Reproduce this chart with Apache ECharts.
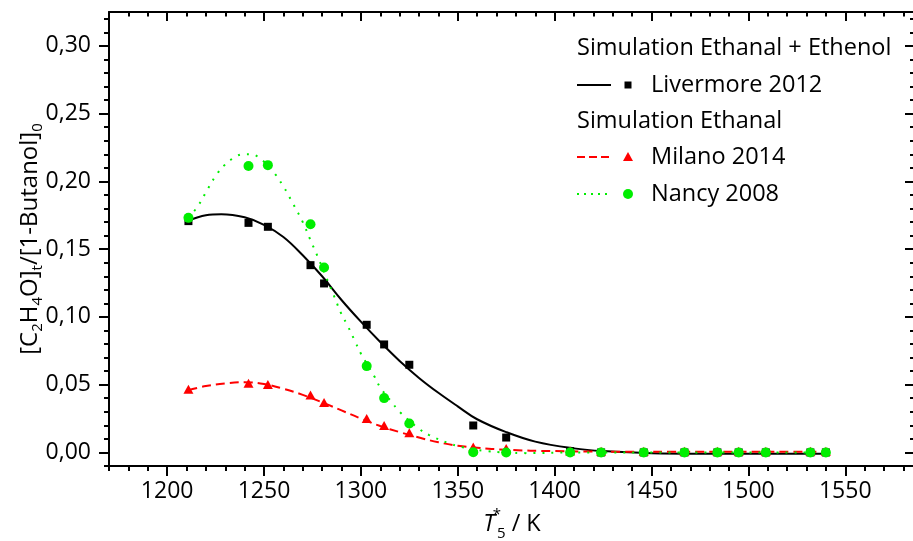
<!DOCTYPE html>
<html>
<head>
<meta charset="utf-8">
<script src="https://cdn.jsdelivr.net/npm/echarts@6/dist/echarts.min.js"></script>
<style>
  html, body { margin: 0; padding: 0; background: #fff; overflow: hidden; }
  #chart { width: 913px; height: 541px; }
</style>
</head>
<body>
<div id="chart"></div>
<script>
// Measured temperatures T5* (K) shared by all three data sets
const tExp = [1211, 1242, 1252, 1274, 1281, 1303, 1312, 1325, 1358, 1375,
              1408, 1424, 1446, 1467, 1484, 1495, 1509, 1532, 1540];

// [C2H4O]t / [1-Butanol]0 markers
const livermorePts = [0.1707, 0.1694, 0.1665, 0.1382, 0.1247, 0.0942, 0.0797, 0.0647, 0.0199, 0.0110,
                      0.0010, 0.0000, 0.0000, 0.0000, 0.0000, 0.0000, 0.0000, 0.0000, 0.0000];
const milanoPts    = [0.0467, 0.0511, 0.0502, 0.0423, 0.0369, 0.0251, 0.0199, 0.0145, 0.0041, 0.0030,
                      0.0010, 0.0008, 0.0008, 0.0008, 0.0008, 0.0008, 0.0008, 0.0008, 0.0008];
const nancyPts     = [0.1731, 0.2113, 0.2120, 0.1684, 0.1365, 0.0637, 0.0401, 0.0214, 0.0002, 0.0000,
                      0.0000, 0.0000, 0.0000, 0.0000, 0.0000, 0.0000, 0.0000, 0.0000, 0.0000];

// Simulation curves (Ethanal + Ethenol for Livermore, Ethanal only for Milano / Nancy)
const livermoreSimT = [1211, 1220, 1228, 1240, 1250, 1260, 1270, 1280, 1290, 1300, 1310, 1320, 1330,
                       1340, 1350, 1360, 1375, 1390, 1410, 1425, 1450, 1500, 1540];
const livermoreSimV = [0.1710, 0.1750, 0.1758, 0.1735, 0.1680, 0.1590, 0.1455, 0.1300, 0.1125, 0.0965,
                       0.0815, 0.0675, 0.0550, 0.0440, 0.0340, 0.0245, 0.0150, 0.0080, 0.0030, 0.0010,
                       -0.0005, -0.0010, -0.0010];

const milanoSimT = [1211, 1220, 1230, 1240, 1250, 1260, 1270, 1280, 1290, 1300, 1310, 1320, 1330,
                    1340, 1350, 1360, 1375, 1400, 1450, 1540];
const milanoSimV = [0.0460, 0.0490, 0.0510, 0.0518, 0.0505, 0.0470, 0.0425, 0.0370, 0.0310, 0.0250,
                    0.0195, 0.0150, 0.0110, 0.0075, 0.0050, 0.0035, 0.0020, 0.0010, 0.0005, 0.0005];

const nancySimT = [1211, 1216, 1221, 1226, 1230, 1234, 1239, 1243, 1247, 1254, 1260, 1265, 1270, 1274,
                   1278, 1282, 1286, 1290, 1293, 1297, 1300, 1307, 1310, 1316, 1320, 1330, 1335, 1345,
                   1352, 1365, 1385, 1410, 1540];
const nancySimV = [0.1730, 0.1820, 0.1945, 0.2060, 0.2125, 0.2170, 0.2200, 0.2201, 0.2180, 0.2085,
                   0.1963, 0.1835, 0.1700, 0.1566, 0.1435, 0.1295, 0.1160, 0.1020, 0.0940, 0.0820,
                   0.0730, 0.0560, 0.0480, 0.0370, 0.0300, 0.0175, 0.0130, 0.0070, 0.0040, 0.0010,
                   -0.0005, 0.0000, 0.0000];

// Axis ticks
const xMajorTicks = [1200, 1250, 1300, 1350, 1400, 1450, 1500, 1550];
const xMinorTicks = [1170, 1180, 1190, 1210, 1220, 1230, 1240, 1260, 1270, 1280, 1290, 1310, 1320, 1330,
                     1340, 1360, 1370, 1380, 1390, 1410, 1420, 1430, 1440, 1460, 1470, 1480, 1490, 1510,
                     1520, 1530, 1540, 1560, 1570, 1580];
const yMajorTicks = [0.00, 0.05, 0.10, 0.15, 0.20, 0.25, 0.30];
const yMinorTicks = [-0.01, 0.01, 0.02, 0.03, 0.04, 0.06, 0.07, 0.08, 0.09, 0.11, 0.12, 0.13, 0.14,
                     0.16, 0.17, 0.18, 0.19, 0.21, 0.22, 0.23, 0.24, 0.26, 0.27, 0.28, 0.29, 0.31, 0.32];

const X_MIN = 1170, X_MAX = 1586;
const Y_MIN = -0.01, Y_MAX = 0.325;

const FONT = '"Open Sans", "Segoe UI", "DejaVu Sans", sans-serif';
const GREEN = '#00ee00';
const RED = '#ff0000';
const BLACK = '#000000';
const TICK_FS = 23;
const TEXT_FS = 23.5;

const zip = (xs, ys) => xs.map((x, i) => [x, ys[i]]);

function makeAxis(dim, position, ticks, opts) {
  const a = {
    type: 'value',
    position: position,
    min: dim === 'x' ? X_MIN : Y_MIN,
    max: dim === 'x' ? X_MAX : Y_MAX,
    splitLine: { show: false },
    axisLine: { show: opts.line, onZero: false, lineStyle: { color: BLACK, width: 2 } },
    axisTick: {
      show: true, inside: opts.inside, length: opts.len, customValues: ticks,
      lineStyle: { color: BLACK, width: 2 }
    },
    axisLabel: { show: false },
    z: 5
  };
  if (opts.labels) {
    a.axisLabel = {
      show: true, customValues: ticks, color: BLACK, fontFamily: FONT, fontSize: TICK_FS,
      margin: opts.margin,
      formatter: v => dim === 'x' ? String(v) : v.toFixed(2).replace('.', ',')
    };
  }
  return a;
}

const xAxes = [
  makeAxis('x', 'bottom', xMajorTicks, { line: true, inside: false, len: 10, labels: true, margin: 14 }),
  makeAxis('x', 'bottom', xMinorTicks, { line: false, inside: false, len: 5 }),
  makeAxis('x', 'top', xMajorTicks, { line: true, inside: true, len: 9 }),
  makeAxis('x', 'top', xMinorTicks, { line: false, inside: true, len: 4.5 })
];
xAxes[0].name = '{i|T}{sup|*}{sub|5}{n| / K}';
xAxes[0].nameLocation = 'middle';
xAxes[0].nameGap = 41;
xAxes[0].nameMoveOverlap = false;
xAxes[0].nameTextStyle = {
  color: BLACK, fontFamily: FONT, fontSize: TEXT_FS,
  rich: {
    i: { fontFamily: FONT, fontSize: TEXT_FS, fontStyle: 'italic', lineHeight: 34, color: BLACK, padding: [0, 2, 0, 0] },
    sup: { fontFamily: FONT, fontSize: 15, lineHeight: 14, verticalAlign: 'top', width: 0, color: BLACK },
    sub: { fontFamily: FONT, fontSize: 15, lineHeight: 14, verticalAlign: 'bottom', color: BLACK },
    n: { fontFamily: FONT, fontSize: TEXT_FS, lineHeight: 34, color: BLACK }
  }
};

const yAxes = [
  makeAxis('y', 'left', yMajorTicks, { line: true, inside: false, len: 10, labels: true, margin: 18 }),
  makeAxis('y', 'left', yMinorTicks, { line: false, inside: false, len: 5 }),
  makeAxis('y', 'right', yMajorTicks, { line: true, inside: true, len: 10 }),
  makeAxis('y', 'right', yMinorTicks, { line: false, inside: true, len: 5 })
];
yAxes[0].name = '{n|[C}{s|2}{n|H}{s|4}{n|O]}{s|t}{n|/[1-Butanol]}{s|0}';
yAxes[0].nameLocation = 'middle';
yAxes[0].nameRotate = 90;
yAxes[0].nameGap = 64;
yAxes[0].nameMoveOverlap = false;
yAxes[0].nameTextStyle = {
  color: BLACK, fontFamily: FONT, fontSize: TEXT_FS,
  rich: {
    n: { fontFamily: FONT, fontSize: 24, lineHeight: 30, color: BLACK },
    s: { fontFamily: FONT, fontSize: 15, lineHeight: 14, verticalAlign: 'bottom', color: BLACK }
  }
};

// Legend block, drawn as graphic elements
const LEG_X = 577, LEG_SYM = 628, LEG_TXT = 651;
const legendRows = [
  { y: 48,  text: 'Simulation Ethanal + Ethenol' },
  { y: 85,  text: 'Livermore 2012', line: { stroke: BLACK, dash: null }, sym: 'square', color: BLACK },
  { y: 121, text: 'Simulation Ethanal' },
  { y: 157, text: 'Milano 2014', line: { stroke: RED, dash: [8, 4] }, sym: 'triangle', color: RED },
  { y: 194, text: 'Nancy 2008', line: { stroke: GREEN, dash: [2, 5] }, sym: 'circle', color: GREEN }
];
const legendGraphics = [];
legendRows.forEach(r => {
  const tx = r.line ? LEG_TXT : LEG_X;
  legendGraphics.push({
    type: 'text', x: tx, y: r.y, z: 100,
    style: { text: r.text, fontFamily: FONT, fontSize: TEXT_FS, fill: BLACK, verticalAlign: 'middle', align: 'left' }
  });
  if (r.line) {
    legendGraphics.push({
      type: 'line', z: 100,
      shape: { x1: LEG_X, y1: r.y, x2: LEG_X + 34, y2: r.y },
      style: { stroke: r.line.stroke, lineWidth: 2, lineDash: r.line.dash }
    });
    if (r.sym === 'square') {
      legendGraphics.push({ type: 'rect', z: 100, shape: { x: LEG_SYM - 3.5, y: r.y - 3.5, width: 7, height: 7 }, style: { fill: r.color } });
    } else if (r.sym === 'triangle') {
      legendGraphics.push({ type: 'polygon', z: 100, shape: { points: [[LEG_SYM, r.y - 5], [LEG_SYM + 5, r.y + 4], [LEG_SYM - 5, r.y + 4]] }, style: { fill: r.color } });
    } else {
      legendGraphics.push({ type: 'circle', z: 100, shape: { cx: LEG_SYM, cy: r.y, r: 5 }, style: { fill: r.color } });
    }
  }
});

const chart = echarts.init(document.getElementById('chart'), null, { renderer: 'canvas' });
chart.setOption({
  animation: false,
  backgroundColor: '#ffffff',
  grid: { left: 109, top: 12, right: -2, bottom: 75, containLabel: false, outerBoundsMode: 'none' },
  xAxis: xAxes,
  yAxis: yAxes,
  graphic: legendGraphics,
  series: [
    {
      name: 'Livermore 2012 sim', type: 'line', data: zip(livermoreSimT, livermoreSimV),
      smooth: 0.4, showSymbol: false, lineStyle: { color: BLACK, width: 2 }, z: 2
    },
    {
      name: 'Livermore 2012', type: 'scatter', data: zip(tExp, livermorePts),
      symbol: 'rect', symbolSize: 8, itemStyle: { color: BLACK, opacity: 1 }, z: 3
    },
    {
      name: 'Milano 2014 sim', type: 'line', data: zip(milanoSimT, milanoSimV),
      smooth: 0.4, showSymbol: false, lineStyle: { color: RED, width: 2, type: [9, 5] }, z: 4
    },
    {
      name: 'Milano 2014', type: 'scatter', data: zip(tExp, milanoPts),
      symbol: 'triangle', symbolSize: [10, 9], itemStyle: { color: RED, opacity: 1 }, z: 5
    },
    {
      name: 'Nancy 2008 sim', type: 'line', data: zip(nancySimT, nancySimV),
      smooth: 0.4, showSymbol: false, lineStyle: { color: GREEN, width: 2, type: [2, 7] }, z: 6
    },
    {
      name: 'Nancy 2008', type: 'scatter', data: zip(tExp, nancyPts),
      symbol: 'circle', symbolSize: 10, itemStyle: { color: GREEN, opacity: 1 }, z: 7
    }
  ]
});
</script>
</body>
</html>
